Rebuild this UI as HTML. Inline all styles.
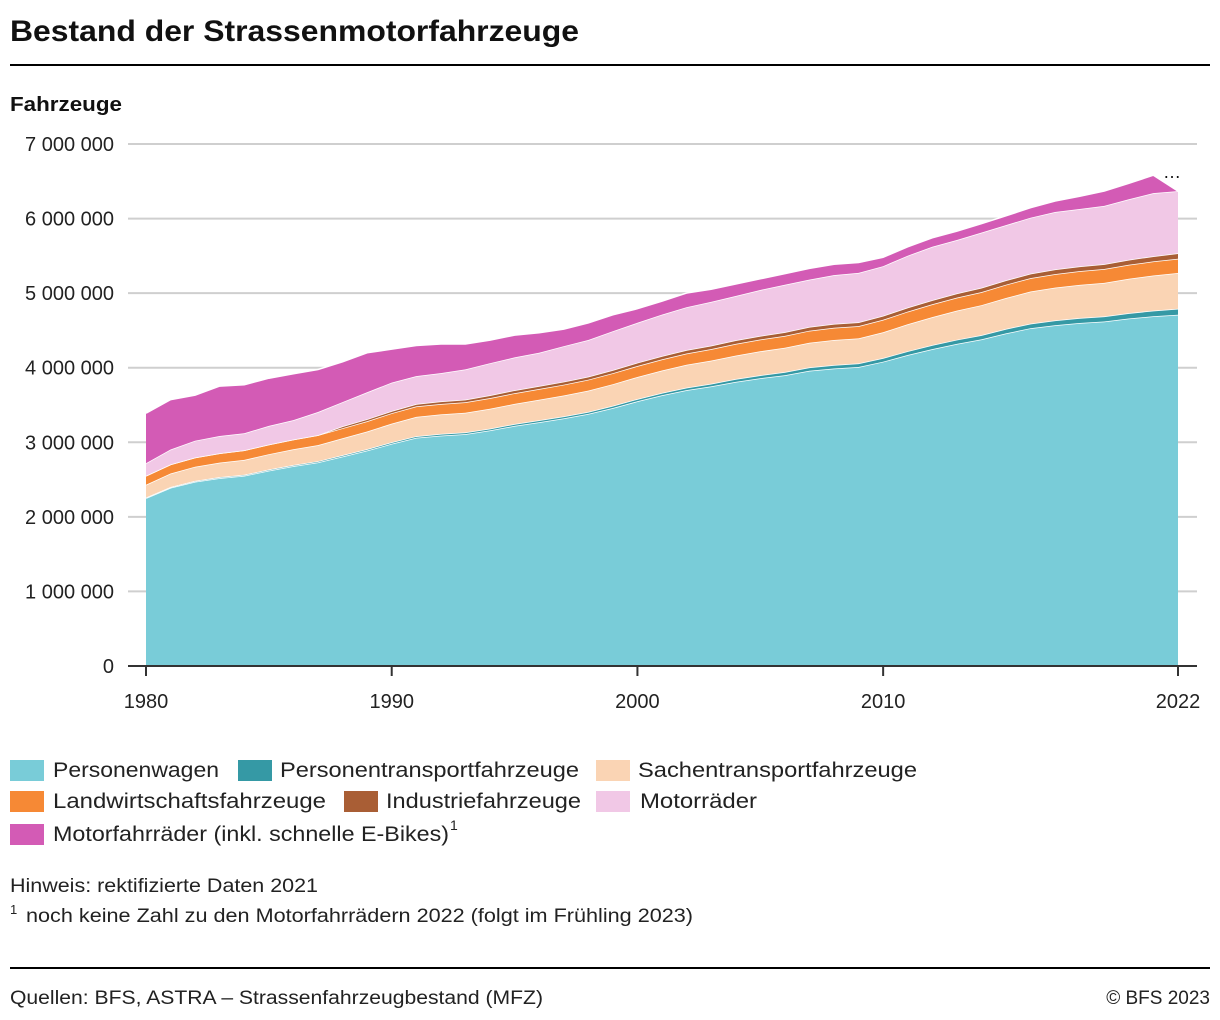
<!DOCTYPE html>
<html><head><meta charset="utf-8">
<style>
html,body{margin:0;padding:0;background:#fff;}
svg{display:block;font-family:"Liberation Sans",sans-serif;}
</style></head>
<body>
<svg id="chart" width="1220" height="1020" viewBox="0 0 1220 1020" xmlns="http://www.w3.org/2000/svg">
  <text x="10" y="41" font-size="30" font-weight="bold" fill="#111" textLength="569" lengthAdjust="spacingAndGlyphs">Bestand der Strassenmotorfahrzeuge</text>
  <line x1="10" y1="65" x2="1210" y2="65" stroke="#000" stroke-width="2"/>
  <text x="10" y="111" font-size="20" font-weight="bold" fill="#111" textLength="112" lengthAdjust="spacingAndGlyphs">Fahrzeuge</text>
  <g id="grid"></g>
  <g id="yticks"></g>
  <g id="areas"></g>
  <g id="xaxis"></g>
  <text x="1172" y="178" font-size="18" fill="#111" text-anchor="middle">…</text>

  <g font-size="21" fill="#222">
    <g><rect x="10" y="760" width="34" height="21" fill="#79ccd8"/><text x="53" y="777" textLength="166" lengthAdjust="spacingAndGlyphs">Personenwagen</text></g>
    <g><rect x="238" y="760" width="34" height="21" fill="#3599a5"/><text x="280" y="777" textLength="299" lengthAdjust="spacingAndGlyphs">Personentransportfahrzeuge</text></g>
    <g><rect x="596" y="760" width="34" height="21" fill="#fad4b4"/><text x="638" y="777" textLength="279" lengthAdjust="spacingAndGlyphs">Sachentransportfahrzeuge</text></g>
    <g><rect x="10" y="791" width="34" height="21" fill="#f68935"/><text x="53" y="808" textLength="273" lengthAdjust="spacingAndGlyphs">Landwirtschaftsfahrzeuge</text></g>
    <g><rect x="344" y="791" width="34" height="21" fill="#a95e35"/><text x="386" y="808" textLength="195" lengthAdjust="spacingAndGlyphs">Industriefahrzeuge</text></g>
    <g><rect x="596" y="791" width="34" height="21" fill="#f1c8e6"/><text x="640" y="808" textLength="117" lengthAdjust="spacingAndGlyphs">Motorräder</text></g>
    <g><rect x="10" y="824" width="34" height="21" fill="#d35bb5"/><text x="53" y="841" textLength="396" lengthAdjust="spacingAndGlyphs">Motorfahrräder (inkl. schnelle E-Bikes)</text><text x="450" y="830" font-size="14">1</text></g>
  </g>

  <text x="10" y="892" font-size="19" fill="#222" textLength="308" lengthAdjust="spacingAndGlyphs">Hinweis: rektifizierte Daten 2021</text>
  <text x="10" y="914" font-size="13" fill="#222">1</text>
  <text x="26" y="922" font-size="19" fill="#222" textLength="667" lengthAdjust="spacingAndGlyphs">noch keine Zahl zu den Motorfahrrädern 2022 (folgt im Frühling 2023)</text>
  <line x1="10" y1="968" x2="1210" y2="968" stroke="#000" stroke-width="2"/>
  <text x="10" y="1004" font-size="19" fill="#222" textLength="533" lengthAdjust="spacingAndGlyphs">Quellen: BFS, ASTRA – Strassenfahrzeugbestand (MFZ)</text>
  <text x="1210" y="1004" font-size="19" fill="#222" text-anchor="end">© BFS 2023</text>
</svg>
<script>
// values in thousands of vehicles, years 1980..2022
const startYear = 1980;
const pw = [2250,2390,2470,2520,2550,2620,2680,2730,2810,2890,2980,3060,3090,3110,3160,3220,3270,3320,3380,3460,3550,3630,3700,3750,3810,3860,3900,3960,3990,4010,4080,4170,4250,4320,4380,4460,4530,4570,4600,4620,4660,4690,4710];
const pt = [10,11,12,13,14,15,16,17,18,19,20,21,22,23,24,25,26,27,28,29,30,32,34,36,38,40,42,44,46,48,50,52,54,56,58,60,62,64,66,68,72,76,80];
const st = [170,180,190,195,200,205,210,215,225,235,250,260,262,263,266,270,275,280,285,290,295,300,305,310,315,320,325,330,335,335,345,360,375,390,400,415,430,440,445,450,460,470,480];
const lw = [120,122,124,126,128,130,132,134,136,138,140,140,140,141,142,143,144,145,146,147,148,150,152,154,156,158,160,162,164,165,167,170,172,174,176,178,180,182,184,186,188,190,192];
const ifz = [0,0,0,0,0,0,0,0,25,28,30,32,34,36,38,40,40,41,42,43,44,45,46,47,48,49,50,51,52,53,54,55,56,57,58,59,60,62,64,66,68,70,72];
const mr = [170,200,225,230,230,250,260,310,325,360,380,375,380,405,430,440,445,475,490,520,535,555,575,585,595,615,635,635,655,660,665,695,715,715,740,740,750,770,770,780,810,845,835];
const mfr = [670,670,610,670,650,640,620,570,540,530,450,410,390,340,310,300,270,230,230,220,190,180,190,170,160,150,150,150,145,140,120,120,120,120,120,125,134,147,170,200,215,240,null];
const yTicks = [0,1000000,2000000,3000000,4000000,5000000,6000000,7000000];
const yTickLabels = ["0","1 000 000","2 000 000","3 000 000","4 000 000","5 000 000","6 000 000","7 000 000"];
const xTicks = [1980,1990,2000,2010,2022];

const NS = "http://www.w3.org/2000/svg";
const X0 = 146, X1 = 1178, Y0 = 666, Y7 = 144;
const xs = yr => X0 + (yr - 1980) * (X1 - X0) / (2022 - 1980);
const ys = v => Y0 - v * (Y0 - Y7) / 7000000;
function mk(tag, attrs, parent){const e=document.createElementNS(NS,tag);for(const k in attrs)e.setAttribute(k,attrs[k]);parent.appendChild(e);return e;}

const grid = document.getElementById('grid'), yt = document.getElementById('yticks');
yTicks.forEach((v,i)=>{
  const l = mk('line',{x1:128,x2:1197,y1:ys(v),y2:ys(v),stroke:'#cfcfcf','stroke-width':2},grid);
  
  
  const t = mk('text',{x:114,y:ys(v)+7,'font-size':20,fill:'#222','text-anchor':'end'},yt);
  
  
  t.textContent = yTickLabels[i];
});

const series = [
  {d:pw,c:'#79ccd8',n:'area-personenwagen'},
  {d:pt,c:'#3599a5',n:'area-personentransport'},
  {d:st,c:'#fad4b4',n:'area-sachentransport'},
  {d:lw,c:'#f68935',n:'area-landwirtschaft'},
  {d:ifz,c:'#a95e35',n:'area-industrie'},
  {d:mr,c:'#f1c8e6',n:'area-motorraeder'},
  {d:mfr,c:'#d35bb5',n:'area-motorfahrraeder'}
];
const areas = document.getElementById('areas');
const n = pw.length;
let base = new Array(n).fill(0);
series.forEach(s=>{
  const top = base.map((b,i)=>b + (s.d[i]==null?0:s.d[i])*1000);
  let dstr = '';
  for(let i=0;i<n;i++) dstr += (i?'L':'M') + xs(startYear+i).toFixed(1) + ',' + ys(top[i]).toFixed(1);
  for(let i=n-1;i>=0;i--) dstr += 'L' + xs(startYear+i).toFixed(1) + ',' + ys(base[i]).toFixed(1);
  dstr += 'Z';
  const p = mk('path',{d:dstr,fill:s.c},areas);
  
  
  let ld = '';
  for(let i=0;i<n;i++) ld += (i?'L':'M') + xs(startYear+i).toFixed(1) + ',' + ys(top[i]).toFixed(1);
  const ln = mk('path',{d:ld,fill:'none',stroke:'#fff','stroke-width':1.5},areas);
  
  
  base = top;
});

const xa = document.getElementById('xaxis');
const axl = mk('line',{x1:128,x2:1197,y1:Y0,y2:Y0,stroke:'#333','stroke-width':2},xa);


xTicks.forEach(yr=>{
  const tk = mk('line',{x1:xs(yr),x2:xs(yr),y1:Y0,y2:Y0+10,stroke:'#333','stroke-width':2},xa);
  
  
  const t = mk('text',{x:xs(yr),y:708,'font-size':20,fill:'#222','text-anchor':'middle'},xa);
  
  
  t.textContent = yr;
});
</script>
</body></html>
